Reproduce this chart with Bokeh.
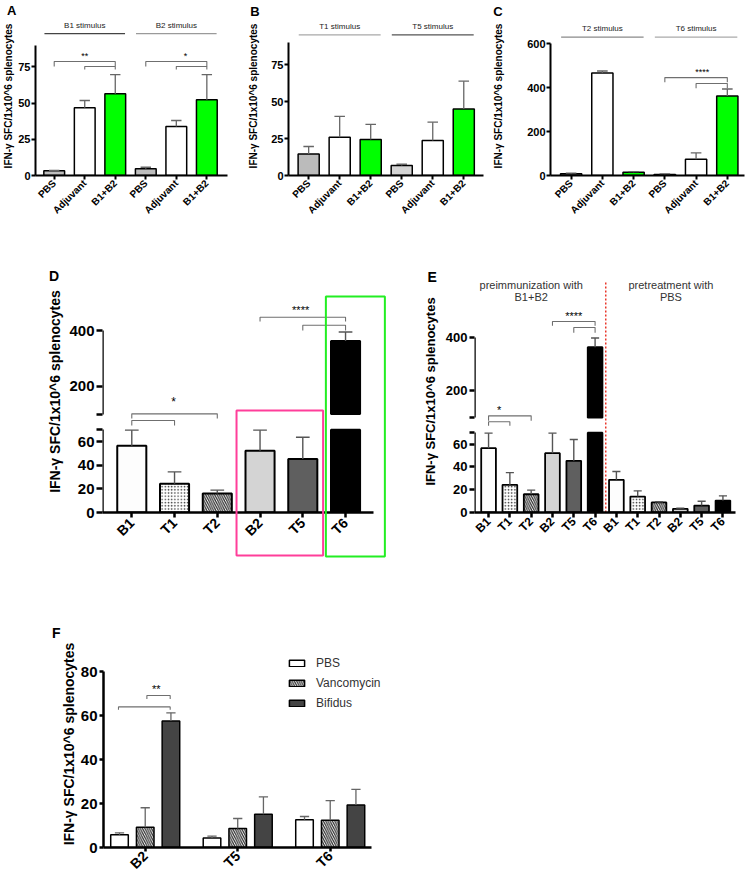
import math
from bokeh.plotting import figure
from bokeh.models import FixedTicker, LinearAxis, Legend, LegendItem, Range1d
from bokeh.layouts import row, column
from bokeh.embed import file_html
from bokeh.resources import INLINE
from bokeh.core.properties import value

FONT = "Liberation Sans"
YLABEL = "IFN-γ SFC/1x10^6 splenocytes"

# ---------------- data ----------------
ABC_labels = ["PBS", "Adjuvant", "B1+B2", "PBS", "Adjuvant", "B1+B2"]

A_groups = ["B1 stimulus", "B2 stimulus"]
A_mean = [3.2, 46.8, 56.4, 4.6, 33.8, 52.3]
A_err = [0.4, 5.0, 13.3, 1.1, 4.2, 17.4]

B_groups = ["T1 stimulus", "T5 stimulus"]
B_mean = [14.6, 25.9, 24.3, 6.8, 23.6, 45.0]
B_err = [5.0, 14.0, 10.2, 0.8, 12.4, 18.7]

C_groups = ["T2 stimulus", "T6 stimulus"]
C_mean = [8, 467, 15, 5, 74, 362]
C_err = [3, 9, 3, 2, 29, 32]

D_labels = ["B1", "T1", "T2", "B2", "T5", "T6"]
D_mean = [56.5, 24.2, 16.1, 52.1, 45.3, 362.7]
D_err = [13.1, 10.1, 2.8, 17.5, 18.3, 32.3]

E_labels = ["B1", "T1", "T2", "B2", "T5", "T6", "B1", "T1", "T2", "B2", "T5", "T6"]
E_groups = [("preimmunization with", "B1+B2"), ("pretreatment with", "PBS")]
E_mean = [56.4, 24.3, 16.0, 52.0, 45.3, 363.0, 28.7, 14.0, 8.8, 3.2, 6.1, 10.5]
E_err = [13.2, 10.7, 3.6, 17.6, 18.7, 34.5, 7.3, 5.0, 0.6, 0.6, 3.8, 4.1]

F_stimuli = ["B2", "T5", "T6"]
F_series = ["PBS", "Vancomycin", "Bifidus"]
F_pbs = [5.8, 4.3, 12.6]
F_pbs_err = [0.9, 0.9, 1.5]
F_vanc = [9.2, 8.7, 12.4]
F_vanc_err = [8.9, 4.5, 8.9]
F_bif = [57.6, 15.1, 19.4]
F_bif_err = [3.7, 7.9, 7.1]

# broken axis (D, E): 0-70 then 100-400 compressed
GAP = 13.2
K = 0.235


def brk(v):
    return v if v <= 70 else 70 + GAP + (v - 100) * K


# ---------------- helpers ----------------
def base_fig(w, h, fl, fr, ft, fb, xr, yr):
    p = figure(width=w, height=h, x_range=Range1d(*xr), y_range=Range1d(*yr),
               output_backend="svg", toolbar_location=None, title_location=None,
               min_border_left=fl, min_border_right=fr,
               min_border_top=ft, min_border_bottom=fb)
    p.outline_line_color = None
    p.xgrid.visible = False
    p.ygrid.visible = False
    p.background_fill_color = "white"
    p.border_fill_color = "white"
    return p


def style_axis(ax, fs, lw, tick_out):
    ax.axis_line_width = lw
    ax.axis_line_color = "black"
    ax.major_tick_line_width = lw
    ax.major_tick_line_color = "black"
    ax.major_tick_out = tick_out
    ax.major_tick_in = 0
    ax.minor_tick_line_color = None
    ax.major_label_text_font = FONT
    ax.major_label_text_font_style = "bold"
    ax.major_label_text_font_size = fs
    ax.major_label_text_color = "black"


def setup_x(p, ticks, labels, fs, lw=2, tick_out=4, bounds=None, standoff=2):
    ax = p.xaxis[0]
    ax.ticker = FixedTicker(ticks=ticks)
    ax.major_label_overrides = {t: l for t, l in zip(ticks, labels)}
    ax.major_label_orientation = math.pi / 4
    ax.major_label_standoff = standoff
    style_axis(ax, fs, lw, tick_out)
    if bounds is not None:
        ax.bounds = bounds


def setup_y(p, ticks, labels, fs, lfs, lstand, bounds, lw=2, tick_out=4,
            show_line=True, standoff=2):
    ax = p.yaxis[0]
    ax.ticker = FixedTicker(ticks=ticks)
    ax.major_label_overrides = {t: l for t, l in zip(ticks, labels)}
    ax.major_label_standoff = standoff
    style_axis(ax, fs, lw, tick_out)
    ax.bounds = bounds
    ax.axis_label = YLABEL
    ax.axis_label_text_font = FONT
    ax.axis_label_text_font_style = "bold"
    ax.axis_label_text_font_size = lfs
    ax.axis_label_text_color = "black"
    ax.axis_label_standoff = lstand
    if not show_line:
        ax.axis_line_color = None


def axis_segment(p, xloc, lo, hi, lw):
    ax = LinearAxis(fixed_location=xloc, bounds=(lo, hi),
                    ticker=FixedTicker(ticks=[]),
                    axis_line_width=lw, axis_line_color="black",
                    major_tick_line_color=None, minor_tick_line_color=None,
                    major_label_text_font_size="0px")
    p.add_layout(ax, "left")


def bar(p, x, bottom, top, width, fill, hatch, lw):
    kw = dict(x=[x], bottom=[bottom], top=[top], width=width,
              fill_color=fill, line_color="black", line_width=lw)
    if hatch == "dot":
        kw.update(hatch_pattern="dot", hatch_color="#3a3a3a", hatch_scale=3.2,
                  hatch_weight=0.9)
    elif hatch == "diag":
        kw.update(hatch_pattern="\\", hatch_color="#2a2a2a", hatch_scale=4.5,
                  hatch_weight=1.2)
    return p.vbar(**kw)


def errbar(p, x, y0, y1, half, color="#666666", lw=1.3):
    p.segment(x0=[x], y0=[y0], x1=[x], y1=[y1], line_color=color, line_width=lw)
    p.segment(x0=[x - half], y0=[y1], x1=[x + half], y1=[y1],
              line_color=color, line_width=lw)


def bracket(p, x0, x1, y, drop, color="#6f6f6f", lw=1.1):
    p.multi_line(xs=[[x0, x0, x1, x1]], ys=[[y - drop, y, y, y - drop]],
                 line_color=color, line_width=lw)


def txt(p, x, y, s, size, bold=False, color="black", align="center", overlay=False):
    kw = dict(x=[x], y=[y], text=[s], text_font=value(FONT),
              text_font_size=size, text_font_style="bold" if bold else "normal",
              text_color=color, text_align=align, text_baseline="middle")
    if overlay:
        kw["level"] = "overlay"
    p.text(**kw)


# ---------------- panels A, B, C ----------------
GREEN = "#00ff00"
ROW1_H = 222
ROW1_FT = 16
ROW1_FB = 47


def simple_panel(w, fl, fr, xr, ystep, ymax_axis, yticks, means, errs, fills,
                 groups, head_line_y, head_text_y, head_colors, letter, letter_xy,
                 lstand, half):
    frame_h = ROW1_H - ROW1_FT - ROW1_FB
    p = base_fig(w, ROW1_H, fl, fr, ROW1_FT, ROW1_FB, xr, (0, frame_h / ystep))
    xs = list(range(len(means)))
    for x, m, f in zip(xs, means, fills):
        bar(p, x, 0, m, 0.68, f, None, 1.5)
    for x, m, e in zip(xs, means, errs):
        errbar(p, x, m, m + e, half)
    for gi, g in enumerate(groups):
        c = 1 + 3 * gi
        p.segment(x0=[c - 1.32], y0=[head_line_y], x1=[c + 1.32], y1=[head_line_y],
                  line_color=head_colors[gi], line_width=1.2)
        txt(p, c, head_text_y, g, "8px", color="#222222")
    setup_x(p, xs, ABC_labels, "10px", lw=2, tick_out=4)
    setup_y(p, yticks, [str(t) for t in yticks], "11px", "10px", lstand,
            (0, ymax_axis), lw=2, tick_out=4, standoff=1)
    txt(p, letter_xy[0], letter_xy[1], letter, "13px", bold=True, overlay=True)
    return p


pA = simple_panel(245, 32, 18, (-0.613, 5.677), 1.448, 90, [0, 25, 50, 75],
                  A_mean, A_err, ["#bdbdbd", "white", GREEN, "#bdbdbd", "white", GREEN],
                  A_groups, 98, 103.6, ["#444444", "#9a9a9a"], "A", (-1.39, 113.9), 1, 0.17)
bracket(pA, 0, 2, 78.7, 3.4)
bracket(pA, 1, 2, 75.3, 2.1)
bracket(pA, 3, 5, 78.7, 3.4)
bracket(pA, 4, 5, 75.3, 2.1)
txt(pA, 1.0, 82.6, "**", "9px")
txt(pA, 4.3, 82.6, "*", "9px")

pB = simple_panel(245, 40, 7, (-0.65, 5.636), 1.48, 90, [0, 25, 50, 75],
                  B_mean, B_err, ["#bbbbbb", "white", GREEN, "#d4d4d4", "white", GREEN],
                  B_groups, 95, 100.9, ["#a8a8a8", "#555555"], "B", (-1.73, 110.8), 9, 0.17)

pC = simple_panel(256, 59, 2, (-0.66, 5.55), 0.2195, 600, [0, 200, 400, 600],
                  C_mean, C_err, ["#bbbbbb", "white", GREEN, "#cfcfcf", "white", GREEN],
                  C_groups, 630, 668, ["#8a8a8a", "#aaaaaa"], "C", (-2.34, 747), 20, 0.17)
bracket(pC, 3, 5, 446, 21)
bracket(pC, 4, 5, 419, 21)
txt(pC, 4.2, 473, "****", "9px")

# ---------------- panels D, E (broken axis) ----------------
DE_fills = ["#fdfdfd", "white", "white", "#d4d4d4", "#5f5f5f", "#000000"]
DE_hatch = [None, "dot", "diag", None, None, None]
ROW2_H = 343
ROW2_FT = 48
ROW2_FB = 53


def broken_bars(p, means, errs, width, lw, half):
    for i, (m, e) in enumerate(zip(means, errs)):
        f = DE_fills[i % 6]
        h = DE_hatch[i % 6]
        if m <= 70:
            bar(p, i, 0, m, width, f, h, lw)
        else:
            bar(p, i, 0, 70, width, f, h, lw)
            bar(p, i, brk(100), brk(m), width, f, h, lw)
        errbar(p, i, brk(m), brk(m + e), half, color="#555555", lw=1.4)


def broken_yaxis(p, xstart, fs, lfs, lstand, tick_out):
    vals = [0, 20, 40, 60, 70, 100, 200, 400]
    ticks = [brk(v) for v in vals]
    labels = ["0", "20", "40", "60", "", "", "200", "400"]
    setup_y(p, ticks, labels, fs, lfs, lstand, (0, brk(400)), lw=2.5,
            tick_out=tick_out, show_line=False, standoff=2)
    axis_segment(p, xstart, 0, 70, 2.5)
    axis_segment(p, xstart, brk(100), brk(400), 2.5)


D_xr = (-0.685, 5.654)
D_fh = ROW2_H - ROW2_FT - ROW2_FB
pD = base_fig(388, ROW2_H, 102, 15, ROW2_FT, ROW2_FB, D_xr, (0, D_fh / 1.183))
broken_bars(pD, D_mean, D_err, 0.68, 2, 0.16)
setup_x(pD, list(range(6)), D_labels, "14px", lw=2.5, tick_out=5, standoff=3)
broken_yaxis(pD, D_xr[0], "15px", "14px", 3, 6)
bracket(pD, 0, 2, 83.4, 4.0)
bracket(pD, 0, 1, 77.8, 4.3)
txt(pD, 0.98, 93.2, "*", "12px")
bracket(pD, 3, 5, 165.1, 3.7)
bracket(pD, 4, 5, 158.3, 4.5)
txt(pD, 3.95, 171.0, "****", "11px")
pD.quad(left=[2.45], right=[4.475], bottom=[-36.3], top=[86.2], fill_color=None,
        line_color="#ff3e9a", line_width=2, level="overlay")
pD.quad(left=[4.54], right=[5.92], bottom=[-37.2], top=[182.6], fill_color=None,
        line_color="#22ee22", line_width=2, level="overlay")
txt(pD, -1.82, 199.5, "D", "14px", bold=True, overlay=True)

E_xr = (-0.66, 11.59)
E_fh = ROW2_H - ROW2_FT - ROW2_FB
pE = base_fig(358, ROW2_H, 86, 11, ROW2_FT, ROW2_FB, E_xr, (0, E_fh / 1.14))
broken_bars(pE, E_mean, E_err, 0.69, 1.8, 0.19)
setup_x(pE, list(range(12)), E_labels, "12px", lw=2.5, tick_out=5, standoff=2)
broken_yaxis(pE, E_xr[0], "13px", "13px", 5, 5)
pE.segment(x0=[5.5], y0=[0], x1=[5.5], y1=[201.8], line_color="#e8362a",
           line_width=1.5, line_dash="2 2")
for (l1, l2), cx in zip(E_groups, [2.0, 8.56]):
    txt(pE, cx, 199.7, l1, "11px", color="#333333")
    txt(pE, cx, 188.6, l2, "11px", color="#333333")
bracket(pE, 0, 2, 84.8, 4.4)
bracket(pE, 0, 1, 79.6, 3.6)
txt(pE, 0.5, 89.6, "*", "11px")
bracket(pE, 3, 5, 167.5, 3.7)
bracket(pE, 4, 5, 162.3, 4.7)
txt(pE, 4.0, 172.6, "****", "11px")
txt(pE, -2.65, 206.8, "E", "14px", bold=True, overlay=True)

# ---------------- panel F ----------------
F_xr = (-0.451, 2.976)
F_H = 315
F_FT = 75
F_FB = 28
pF = base_fig(430, F_H, 103, 10, F_FT, F_FB, F_xr, (0, (F_H - F_FT - F_FB) / 2.25))
OFF = 0.278
F_vals = [F_pbs, F_vanc, F_bif]
F_errs = [F_pbs_err, F_vanc_err, F_bif_err]
F_fills = ["white", "white", "#444444"]
F_hatch = [None, "diag", None]
items = []
for s, name in enumerate(F_series):
    rends = []
    for g in range(len(F_stimuli)):
        x = g + (s - 1) * OFF
        r = bar(pF, x, 0, F_vals[s][g], 0.19, F_fills[s], F_hatch[s], 1.5)
        rends.append(r)
        errbar(pF, x, F_vals[s][g], F_vals[s][g] + F_errs[s][g], 0.05)
    items.append(LegendItem(label=name, renderers=[rends[0]]))
setup_x(pF, [0, 1, 2], F_stimuli, "14px", lw=2.5, tick_out=4,
        bounds=(F_xr[0], 2.451), standoff=2)
setup_y(pF, [0, 20, 40, 60, 80], ["0", "20", "40", "60", "80"], "15px", "14px", 1,
        (0, 80), lw=2.5, tick_out=4, standoff=2)
bracket(pF, -0.289, 0.27, 64.0, 1.3)
bracket(pF, 0.018, 0.27, 69.2, 1.6)
txt(pF, 0.12, 72.3, "**", "11px")
txt(pF, -0.962, 97.8, "F", "14px", bold=True, overlay=True)
leg = Legend(items=items, location=(184, 136.7), orientation="vertical",
             glyph_width=19, glyph_height=8, label_height=14, spacing=6,
             padding=0, margin=0, label_standoff=10,
             label_text_font=FONT, label_text_font_size="12px",
             label_text_color="#333333", border_line_color=None,
             background_fill_alpha=0)
pF.add_layout(leg)

layout = column(row(pA, pB, pC), row(pD, pE), row(pF))
open("out.html", "w").write(file_html(layout, INLINE))
